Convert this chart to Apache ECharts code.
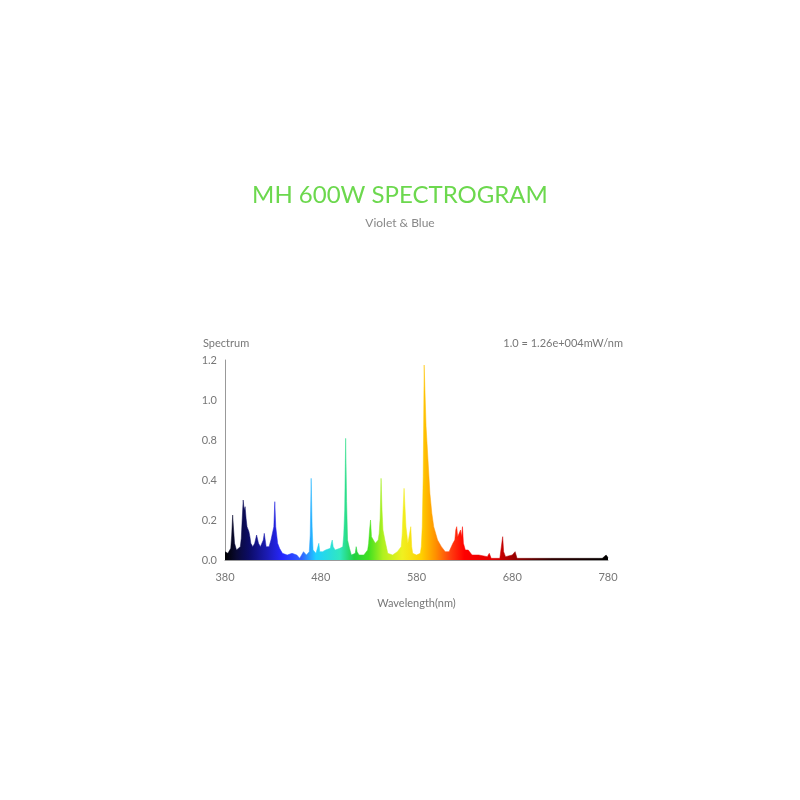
<!DOCTYPE html>
<html>
<head>
<meta charset="utf-8">
<script src="https://cdn.jsdelivr.net/npm/echarts@6/dist/echarts.min.js"></script>
<style>html,body{margin:0;background:#fff}#chart{width:800px;height:800px}</style>
</head>
<body>
<div id="chart"></div>
<script>
// spectrum samples: wavelength (nm) and relative value
var wavelengths = [380,383,386,387,388,389,390,392,394,396,397,398,399,400,401,402,403,404,405,406,407,409,411,413,415,417,420,421,423,426,428,430,431,432,433,435,437,440,445,450,455,458,462,465,468,469,470,471,472,475,477,478,479,482,485,490,491,492,493,495,500,503,504,505,506,507,508,510,512,516,517,518,520,525,529,530,531,532,533,537,540,541,542,543,544,545,547,550,555,560,562,564,565,566,567,569,571,572,574,575,576,580,584,585,586,587,588,590,592,594,596,598,602,606,610,614,616,618,620,621,622,623,625,626,627,628,629,631,634,638,645,654,656,658,667,669,670,671,673,680,681,683,685,700,720,735,750,770,774,778,780];
var values = [0.05,0.04,0.07,0.15,0.27,0.18,0.1,0.06,0.06,0.08,0.13,0.25,0.36,0.3,0.32,0.25,0.2,0.19,0.17,0.14,0.1,0.08,0.1,0.15,0.1,0.08,0.12,0.16,0.08,0.08,0.12,0.13,0.2,0.35,0.2,0.1,0.07,0.04,0.03,0.04,0.03,0.01,0.05,0.03,0.05,0.15,0.49,0.2,0.06,0.04,0.05,0.1,0.05,0.05,0.06,0.07,0.1,0.12,0.08,0.06,0.07,0.08,0.15,0.3,0.73,0.35,0.12,0.07,0.03,0.04,0.08,0.05,0.03,0.03,0.06,0.1,0.18,0.24,0.14,0.1,0.12,0.16,0.25,0.49,0.3,0.18,0.12,0.04,0.03,0.05,0.06,0.08,0.15,0.3,0.43,0.2,0.1,0.1,0.2,0.08,0.04,0.03,0.04,0.08,0.2,0.5,1.17,0.8,0.6,0.4,0.28,0.2,0.12,0.08,0.05,0.05,0.05,0.1,0.12,0.18,0.2,0.14,0.15,0.18,0.14,0.2,0.1,0.06,0.06,0.03,0.03,0.02,0.04,0.01,0.01,0.02,0.14,0.05,0.02,0.03,0.02,0.05,0.01,0.01,0.01,0.01,0.01,0.01,0.01,0.03,0.015,0];
var xTicks = [380,480,580,680,780];
var yTickLabels = ['0.0','0.2','0.4','0.8','1.0','1.2'];

var colorStops = [
  [380,'#000000'],[392,'#0a0a35'],[405,'#0c0c66'],[425,'#1c1cb8'],[440,'#2626ff'],[460,'#3060ff'],
  [475,'#20d0ff'],[500,'#30e8c0'],[515,'#20d040'],[530,'#40e020'],[545,'#b0f020'],
  [565,'#f0f020'],[585,'#ffd000'],[600,'#ff9000'],[615,'#ff4010'],[630,'#ff0000'],
  [660,'#e00000'],[690,'#800000'],[720,'#300000'],[780,'#000000']
];
var stops = colorStops.map(function (s) { return {offset: (s[0] - 380) / 400, color: s[1]}; });

var chart = echarts.init(document.getElementById('chart'));
var fam = 'Lato, sans-serif';
var gray = '#777';
chart.setOption({
  title: [
    {text: 'MH 600W SPECTROGRAM', left: 'center', top: 178,
     textStyle: {color: '#6cd84e', fontSize: 24, fontWeight: 'normal', fontFamily: fam}},
    {text: 'Violet & Blue', left: 'center', top: 212,
     textStyle: {color: '#888', fontSize: 12, fontWeight: 'normal', fontFamily: fam}},
    {text: 'Spectrum', left: 198, top: 333,
     textStyle: {color: gray, fontSize: 11, fontWeight: 'normal', fontFamily: fam}},
    {text: '1.0 = 1.26e+004mW/nm', right: 172, top: 333,
     textStyle: {color: gray, fontSize: 11, fontWeight: 'normal', fontFamily: fam}}
  ],
  grid: {left: 225, right: 192, top: 360, bottom: 240},
  xAxis: {
    type: 'value', min: 380, max: 780, interval: 100,
    name: 'Wavelength(nm)', nameLocation: 'middle', nameGap: 38,
    nameTextStyle: {color: gray, fontSize: 11, fontFamily: fam},
    axisLine: {lineStyle: {color: '#999'}}, axisTick: {show: false},
    axisLabel: {color: gray, fontSize: 11, fontFamily: fam, margin: 12,
      formatter: function (v) { return xTicks.indexOf(v) >= 0 ? v : ''; }},
    splitLine: {show: false}
  },
  yAxis: {
    type: 'value', min: 0, max: 1.2, interval: 0.24,
    axisLine: {show: true, lineStyle: {color: '#999'}}, axisTick: {show: false},
    axisLabel: {color: gray, fontSize: 11, fontFamily: fam, margin: 8,
      formatter: function (v) { return yTickLabels[Math.round(v / 0.24)]; }},
    splitLine: {show: false}
  },
  series: [{
    type: 'line', symbol: 'none',
    data: wavelengths.map(function (w, i) { return [w, values[i]]; }),
    lineStyle: {width: 0.5, color: new echarts.graphic.LinearGradient(0, 0, 1, 0, stops)},
    areaStyle: {opacity: 1, color: new echarts.graphic.LinearGradient(0, 0, 1, 0, stops)}
  }]
});
</script>
</body>
</html>
